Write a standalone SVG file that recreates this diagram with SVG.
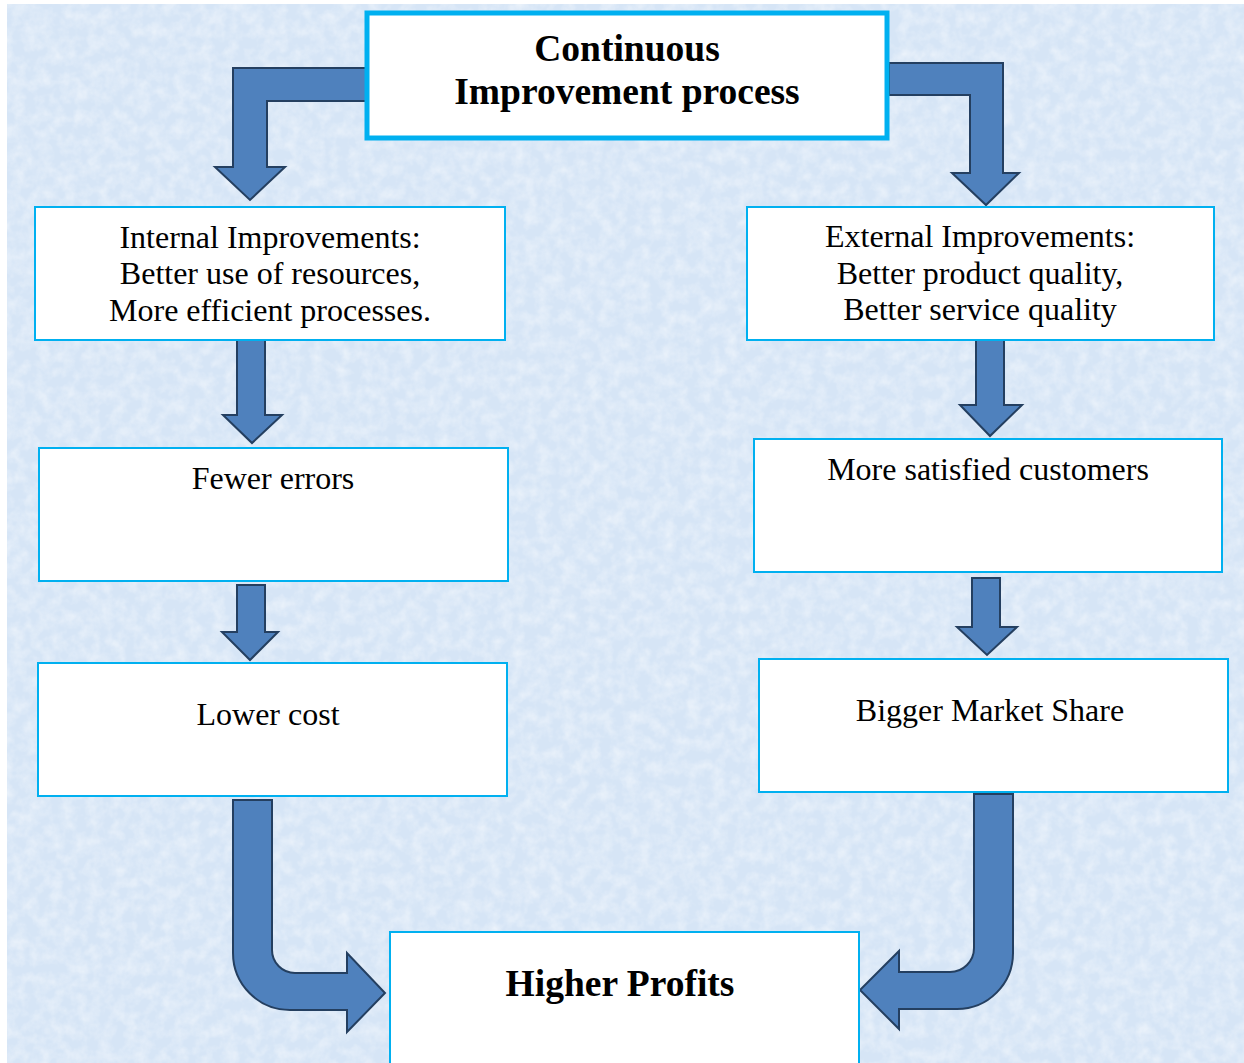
<svg xmlns="http://www.w3.org/2000/svg" width="1244" height="1063" viewBox="0 0 1244 1063">
  <defs>
    <filter id="paper" x="0" y="0" width="100%" height="100%">
      <feTurbulence type="fractalNoise" baseFrequency="0.08" numOctaves="3" seed="7" result="n"/>
      <feColorMatrix in="n" type="matrix" values="0 0 0 0 1  0 0 0 0 1  0 0 0 0 1  0 0 0 1.6 -0.55"/>
    </filter>
    <style>
      .box { fill: #ffffff; stroke: #00b0f0; stroke-width: 2; }
      .main { fill: #ffffff; stroke: #00b0f0; stroke-width: 5; }
      .arrow { fill: #4f81bd; stroke: #243f60; stroke-width: 2; stroke-linejoin: miter; }
      .t { font-family: "Liberation Serif", "Times New Roman", serif; font-size: 32px; fill: #000; text-anchor: middle; }
      .tb { font-family: "Liberation Serif", "Times New Roman", serif; font-size: 37.5px; font-weight: bold; fill: #000; text-anchor: middle; }
    </style>
  </defs>

  <!-- page background -->
  <rect x="0" y="0" width="1244" height="1063" fill="#ffffff"/>
  <rect x="7" y="4" width="1237" height="1059" fill="#d6e5f6"/>
  <rect x="7" y="4" width="1237" height="1059" filter="url(#paper)" opacity="0.5"/>

  <!-- connectors -->
  <g id="connectors">
    <polygon class="arrow" points="367,68 233,68 233,167 215,167 250,200 285,167 267,167 267,101 367,101"/>
    <polygon class="arrow" points="889,63 1003,63 1003,173 1019,173 986,205 952,173 970,173 970,95 889,95"/>
    <polygon class="arrow" points="237,340 265,340 265,415 282,415 252,443 223,415 237,415"/>
    <polygon class="arrow" points="976,340 1004,340 1004,405 1022,405 990,436 960,405 976,405"/>
    <polygon class="arrow" points="237,585 265,585 265,632 278,632 250,660 222,632 237,632"/>
    <polygon class="arrow" points="972,578 1000,578 1000,627 1017,627 987,655 957,627 972,627"/>
    <path class="arrow" d="M233,800 L272,800 L272,950 A23,23 0 0 0 295,973 L347,973 L347,953 L385,993 L347,1032 L347,1010 L290,1010 A57,57 0 0 1 233,953 Z"/>
    <path class="arrow" d="M974,794 L1013,794 L1013,953 A56,56 0 0 1 957,1009 L899,1009 L899,1029 L860,990 L899,951 L899,972 L950,972 A24,24 0 0 0 974,948 Z"/>
  </g>

  <g id="node-continuous">
    <rect class="main" x="367" y="13" width="520" height="125"/>
    <text class="tb" x="627" y="61">Continuous</text>
    <text class="tb" x="627" y="104">Improvement process</text>
  </g>

  <g id="node-internal">
    <rect class="box" x="35" y="207" width="470" height="133"/>
    <text class="t" x="270" y="248">Internal Improvements:</text>
    <text class="t" x="270" y="284">Better use of resources,</text>
    <text class="t" x="270" y="321">More efficient processes.</text>
  </g>

  <g id="node-external">
    <rect class="box" x="747" y="207" width="467" height="133"/>
    <text class="t" x="980" y="247">External Improvements:</text>
    <text class="t" x="980" y="284">Better product quality,</text>
    <text class="t" x="980" y="320">Better service quality</text>
  </g>

  <g id="node-fewer-errors">
    <rect class="box" x="39" y="448" width="469" height="133"/>
    <text class="t" x="273" y="489">Fewer errors</text>
  </g>

  <g id="node-satisfied">
    <rect class="box" x="754" y="439" width="468" height="133"/>
    <text class="t" x="988" y="480">More satisfied customers</text>
  </g>

  <g id="node-lower-cost">
    <rect class="box" x="38" y="663" width="469" height="133"/>
    <text class="t" x="268" y="725">Lower cost</text>
  </g>

  <g id="node-market-share">
    <rect class="box" x="759" y="659" width="469" height="133"/>
    <text class="t" x="990" y="721">Bigger Market Share</text>
  </g>

  <g id="node-profits">
    <rect class="box" x="390" y="932" width="469" height="140"/>
    <text class="tb" x="620" y="996">Higher Profits</text>
  </g>
</svg>
